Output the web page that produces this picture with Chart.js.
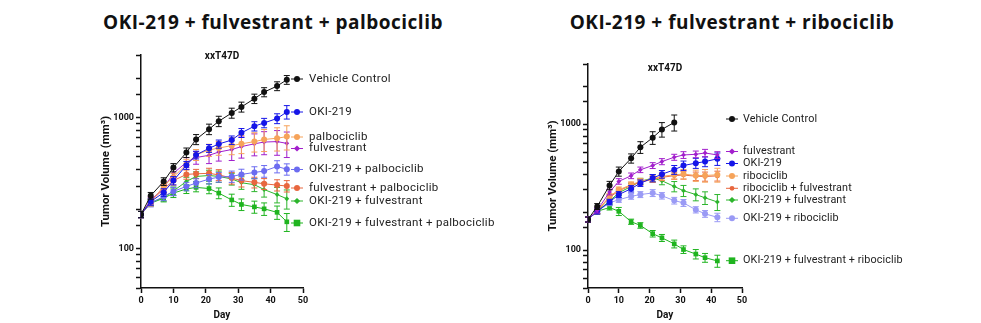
<!DOCTYPE html>
<html>
<head>
<meta charset="utf-8">
<script src="https://cdn.jsdelivr.net/npm/chart.js@4.4.1/dist/chart.umd.min.js"></script>
<style>
  body { margin: 0; background: #fff; width: 981px; height: 323px; overflow: hidden; position: relative; }
  .title { position: absolute; top: 9px; line-height: 26px; font-family: "Open Sans", sans-serif; font-weight: 700;
           font-size: 19px; letter-spacing: 0.5px; color: #111; white-space: nowrap; transform: translateX(-50%); }
  canvas { position: absolute; top: 0; }
</style>
</head>
<body>
<div class="title" style="left:273px">OKI-219 + fulvestrant + palbociclib</div>
<div class="title" style="left:732px">OKI-219 + fulvestrant + ribociclib</div>
<canvas id="riboChart" width="491" height="323" style="left:490px"></canvas>
<canvas id="palboChart" width="540" height="323" style="left:0"></canvas>
<script>
// days of measurement
const palboDays = [0, 3, 7, 10, 14, 17, 21, 24, 28, 31, 35, 38, 42, 45];
const riboDays = [0, 3, 7, 10, 14, 17, 21, 24, 28, 31, 35, 38, 42];
const yLabelled = [100, 1000];

// --- palbociclib study: mean tumor volume and SEM (mm3)
const pVehicle = [182, 253, 325, 415, 540, 681, 815, 937, 1083, 1205, 1393, 1564, 1738, 1941];
const pVehicleSem = [10, 15, 22, 30, 45, 60, 75, 85, 95, 105, 115, 125, 135, 150];
const pOki = [182, 228, 268, 330, 432, 518, 582, 628, 673, 764, 859, 910, 983, 1103];
const pOkiSem = [10, 14, 18, 24, 30, 35, 40, 45, 50, 60, 70, 75, 85, 130];
const pPalbo = [182, 225, 300, 350, 440, 520, 565, 585, 610, 630, 655, 680, 695, 715];
const pPalboSem = [10, 14, 20, 25, 40, 50, 60, 70, 90, 100, 110, 130, 140, 150];
const pFulv = [182, 234, 290, 375, 455, 495, 515, 545, 570, 600, 630, 650, 655, 635];
const pFulvSem = [10, 14, 20, 30, 40, 55, 70, 80, 100, 110, 120, 130, 140, 140];
const pOkiPalbo = [182, 222, 250, 273, 298, 316, 339, 351, 355, 368, 381, 390, 423, 403];
const pOkiPalboSem = [10, 14, 18, 20, 22, 25, 28, 30, 35, 35, 40, 40, 45, 40];
const pFulvPalbo = [182, 230, 285, 330, 368, 372, 375, 365, 345, 330, 320, 312, 305, 300];
const pFulvPalboSem = [10, 14, 20, 25, 30, 30, 35, 35, 35, 35, 30, 30, 30, 30];
const pOkiFulv = [182, 225, 245, 275, 325, 355, 361, 355, 340, 318, 307, 282, 258, 240];
const pOkiFulvSem = [10, 12, 15, 20, 25, 30, 35, 35, 35, 35, 35, 35, 35, 40];
const pTriple = [182, 222, 242, 265, 285, 293, 287, 265, 235, 217, 208, 201, 189, 160];
const pTripleSem = [10, 12, 15, 20, 22, 22, 25, 25, 25, 22, 22, 22, 22, 25];

// --- ribociclib study
const rVehicle = [175, 222, 326, 421, 535, 655, 780, 908, 1031];
const rVehicleSem = [8, 12, 25, 35, 45, 70, 90, 120, 150];
const rFulv = [175, 207, 289, 351, 389, 434, 469, 504, 546, 569, 576, 590, 569];
const rFulvSem = [8, 10, 15, 18, 20, 22, 25, 28, 30, 35, 35, 40, 35];
const rOki = [175, 203, 241, 276, 307, 340, 373, 400, 434, 469, 490, 504, 530];
const rOkiSem = [8, 10, 12, 15, 18, 20, 25, 28, 35, 40, 45, 45, 60];
const rRibo = [175, 205, 267, 301, 330, 351, 368, 384, 396, 401, 391, 391, 396];
const rRiboSem = [8, 10, 14, 16, 18, 20, 22, 25, 30, 35, 40, 45, 50];
const rRiboFulv = [175, 204, 262, 296, 326, 346, 364, 378, 390, 394, 386, 384, 388];
const rRiboFulvSem = [8, 10, 12, 14, 16, 18, 20, 22, 25, 28, 30, 32, 35];
const rOkiFulv = [175, 203, 245, 285, 320, 351, 373, 355, 320, 296, 276, 260, 241];
const rOkiFulvSem = [8, 10, 12, 15, 18, 20, 25, 25, 30, 30, 30, 30, 35];
const rOkiRibo = [175, 203, 237, 251, 267, 276, 284, 270, 247, 237, 209, 194, 182];
const rOkiRiboSem = [8, 10, 12, 12, 14, 15, 18, 16, 15, 15, 12, 12, 14];
const rTriple = [175, 203, 218, 203, 168, 157, 135, 125, 112, 101, 93, 87, 82];
const rTripleSem = [8, 8, 10, 15, 8, 8, 8, 8, 8, 7, 8, 7, 9];

Chart.defaults.font.family = 'Roboto, sans-serif';
Chart.defaults.color = '#111';

function series(label, days, values, sem, color, shape, radius, legendY) {
    return {
        label: label,
        data: values.map((v, i) => ({ x: days[i], y: v })),
        sem: sem,
        legendY: legendY,
        shape: shape,
        borderColor: color,
        backgroundColor: color,
        borderWidth: 1,
        pointStyle: shape,
        pointRadius: radius,
        pointBorderWidth: 0,
        tension: 0
    };
}

function drawMarker(ctx, shape, x, y, r) {
    ctx.beginPath();
    if (shape === 'rect') {
        ctx.rect(x - r, y - r, 2 * r, 2 * r);
    } else if (shape === 'rectRot') {
        ctx.moveTo(x, y - r * 1.3);
        ctx.lineTo(x + r * 1.3, y);
        ctx.lineTo(x, y + r * 1.3);
        ctx.lineTo(x - r * 1.3, y);
        ctx.closePath();
    } else {
        ctx.arc(x, y, r, 0, Math.PI * 2);
    }
    ctx.fill();
}

const errorBars = {
    id: 'errorBars',
    beforeDatasetDraw(chart, args) {
        const ds = chart.data.datasets[args.index];
        const yScale = chart.scales.y;
        const ctx = chart.ctx;
        ctx.save();
        ctx.strokeStyle = ds.borderColor;
        ctx.lineWidth = 1;
        args.meta.data.forEach((pt, i) => {
            const v = ds.data[i].y;
            const e = ds.sem[i];
            const top = yScale.getPixelForValue(v + e);
            const bot = yScale.getPixelForValue(v - e);
            ctx.beginPath();
            ctx.moveTo(pt.x, top);
            ctx.lineTo(pt.x, bot);
            ctx.moveTo(pt.x - 3, top);
            ctx.lineTo(pt.x + 3, top);
            ctx.moveTo(pt.x - 3, bot);
            ctx.lineTo(pt.x + 3, bot);
            ctx.stroke();
        });
        ctx.restore();
    }
};

// legend to the right of the plot, plus the model name on top
const sideLegend = {
    id: 'sideLegend',
    afterDraw(chart, args, opts) {
        const ctx = chart.ctx;
        const area = chart.chartArea;
        ctx.save();
        ctx.font = 'bold 10px Roboto, sans-serif';
        ctx.fillStyle = '#111';
        ctx.textAlign = 'center';
        ctx.textBaseline = 'middle';
        ctx.fillText('xxT47D', (area.left + area.right) / 2, area.top + opts.headerDy);

        ctx.font = opts.fontSize + 'px Roboto, sans-serif';
        ctx.letterSpacing = opts.spacing;
        ctx.textAlign = 'left';
        chart.data.datasets.forEach(ds => {
            const x = area.right + opts.markerDx;
            const y = ds.legendY;
            ctx.strokeStyle = ds.borderColor;
            ctx.fillStyle = ds.borderColor;
            ctx.lineWidth = 1;
            ctx.beginPath();
            ctx.moveTo(x - 6, y);
            ctx.lineTo(x + 6, y);
            ctx.stroke();
            drawMarker(ctx, ds.shape, x, y, ds.pointRadius);
            ctx.fillStyle = '#222';
            ctx.fillText(ds.label, area.right + opts.textDx, y);
        });
        ctx.restore();
    }
};

function buildChart(id, datasets, pad, legendOpts) {
    new Chart(document.getElementById(id), {
        type: 'line',
        data: { datasets: datasets },
        options: {
            responsive: false,
            animation: false,
            devicePixelRatio: 1,
            layout: { padding: pad },
            plugins: {
                legend: { display: false },
                tooltip: { enabled: false },
                sideLegend: legendOpts
            },
            scales: {
                x: {
                    type: 'linear',
                    min: 0,
                    max: 50,
                    afterFit: s => { s.height = 33; },
                    ticks: { stepSize: 10, padding: 2, font: { size: 9, weight: 'bold' }, color: '#111' },
                    grid: { drawOnChartArea: false, drawTicks: true, tickLength: 5, tickColor: '#111', tickWidth: 1.5 },
                    border: { color: '#111', width: 1.5 },
                    title: { display: true, text: 'Day', font: { size: 10, weight: 'bold' }, padding: 0, color: '#111' }
                },
                y: {
                    type: 'logarithmic',
                    min: 50,
                    max: 3000,
                    afterFit: s => { s.width = 42; },
                    ticks: {
                        autoSkip: false,
                        padding: 2,
                        font: { size: 9, weight: 'bold' },
                        color: '#111',
                        callback: v => yLabelled.includes(Math.round(v)) ? String(Math.round(v)) : ''
                    },
                    grid: { drawOnChartArea: false, drawTicks: true, tickLength: 5, tickColor: '#111', tickWidth: 1.5 },
                    border: { color: '#111', width: 1.5 },
                    title: { display: true, text: 'Tumor Volume (mm³)', font: { size: 11.5, weight: 'bold' }, padding: 0, color: '#111' }
                }
            }
        },
        plugins: [errorBars, sideLegend]
    });
}

buildChart('palboChart', [
    series('Vehicle Control', palboDays, pVehicle, pVehicleSem, '#111111', 'circle', 3, 79),
    series('OKI-219', palboDays, pOki, pOkiSem, '#1515e8', 'circle', 3, 112),
    series('palbociclib', palboDays, pPalbo, pPalboSem, '#f6a35a', 'circle', 3, 137),
    series('fulvestrant', palboDays, pFulv, pFulvSem, '#a21fcc', 'rectRot', 2.4, 148.5),
    series('OKI-219 + palbociclib', palboDays, pOkiPalbo, pOkiPalboSem, '#6c6cf0', 'circle', 3, 169.5),
    series('fulvestrant + palbociclib', palboDays, pFulvPalbo, pFulvPalboSem, '#e8673f', 'circle', 3, 188),
    series('OKI-219 + fulvestrant', palboDays, pOkiFulv, pOkiFulvSem, '#2db52d', 'rectRot', 2.4, 201),
    series('OKI-219 + fulvestrant + palbociclib', palboDays, pTriple, pTripleSem, '#1fb41f', 'rect', 3.3, 223)
], { left: 99, right: 237, top: 55, bottom: 2 }, { markerDx: -6, textDx: 6, headerDy: 1, fontSize: 11.5, spacing: '0.3px' });

buildChart('riboChart', [
    series('Vehicle Control', riboDays, rVehicle, rVehicleSem, '#111111', 'circle', 3, 119),
    series('fulvestrant', riboDays, rFulv, rFulvSem, '#a21fcc', 'rectRot', 2.4, 151.5),
    series('OKI-219', riboDays, rOki, rOkiSem, '#1515e8', 'circle', 3, 163.5),
    series('ribociclib', riboDays, rRibo, rRiboSem, '#f6a35a', 'circle', 3, 176),
    series('ribociclib + fulvestrant', riboDays, rRiboFulv, rRiboFulvSem, '#e8673f', 'circle', 2.4, 188.3),
    series('OKI-219 + fulvestrant', riboDays, rOkiFulv, rOkiFulvSem, '#2db52d', 'rectRot', 2.4, 200),
    series('OKI-219 + ribociclib', riboDays, rOkiRibo, rOkiRiboSem, '#9a9af5', 'circle', 3, 218.3),
    series('OKI-219 + fulvestrant + ribociclib', riboDays, rTriple, rTripleSem, '#1fb41f', 'rect', 3.3, 260.7)
], { left: 56, right: 239, top: 64, bottom: 2 }, { markerDx: -10, textDx: 1, headerDy: 4, fontSize: 10.8, spacing: '0.1px' });
</script>
</body>
</html>
